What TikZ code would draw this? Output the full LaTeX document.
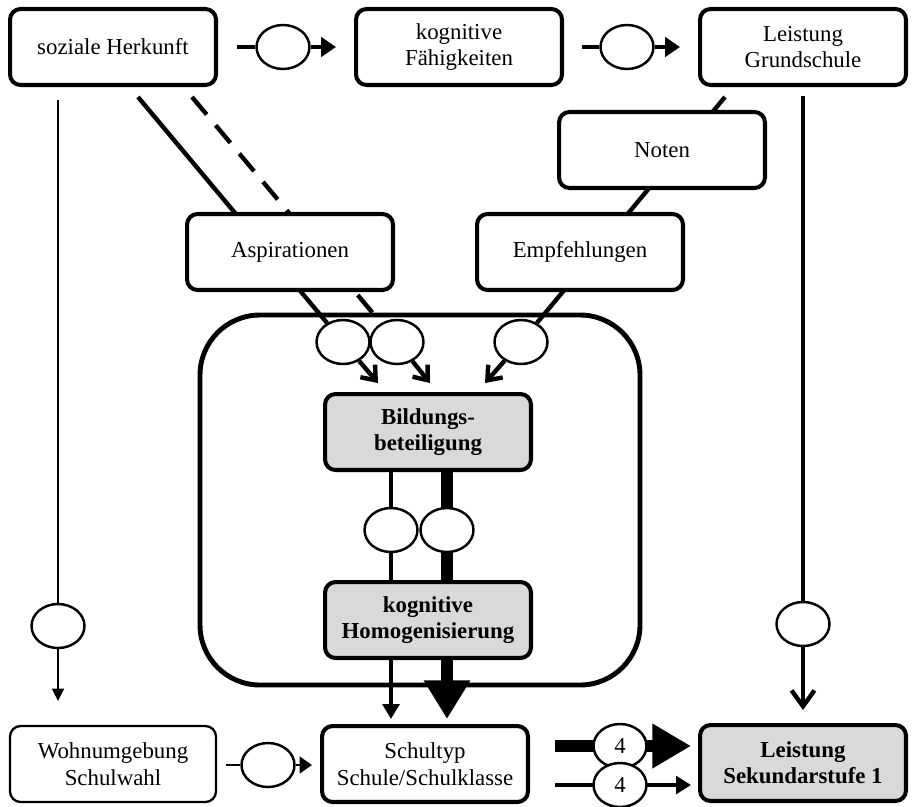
\documentclass[tikz,border=0pt]{standalone}
\usepackage{fontspec}
\setmainfont{Liberation Serif}
\usetikzlibrary{arrows.meta,shapes.geometric,backgrounds}
\tikzset{
  box/.style={draw,line width=2.3pt,rounded corners=6pt,fill=white,align=center,
    minimum width=4.12cm,minimum height=1.52cm,font=\fontsize{13}{15}\selectfont},
  thinbox/.style={box,line width=1.3pt},
  graybox/.style={box,fill=black!15,font=\fontsize{13}{15}\selectfont\bfseries},
  oval/.style={draw,ellipse,line width=1.4pt,fill=white,minimum width=1.06cm,
    minimum height=0.88cm,inner sep=0pt,font=\fontsize{13}{15}\selectfont},
  conn/.style={line width=2.5pt},
  fat/.style={line width=6.8pt},
  hair/.style={line width=0.7pt},
}

\begin{document}
\begin{tikzpicture}[x=0.02cm,y=-0.02cm]
\useasboundingbox (0,0) rectangle (912,806);

\node[box] (herkunft) at (113,47) {soziale Herkunft};
\node[box] (kogn) at (459,47) {kognitive\\Fähigkeiten};
\node[box] (lgs) at (803,47) {Leistung\\Grundschule};
\node[box] (noten) at (662,150) {Noten};
\node[box] (asp) at (290,252) {Aspirationen};
\node[box] (empf) at (580,252) {Empfehlungen};
\draw[line width=2.8pt,rounded corners=1.2cm] (200,315) rectangle (640,685);
\node[graybox] (bild) at (428,432) {Bildungs-\\beteiligung};
\node[graybox] (homog) at (428,620) {kognitive\\Homogenisierung};
\node[thinbox] (wohn) at (113,764) {Wohnumgebung\\Schulwahl};
\node[box] (schultyp) at (425,764) {Schultyp\\Schule/Schulklasse};
\node[graybox] (lsek) at (803,763) {Leistung\\Sekundarstufe 1};

\node[oval] (o1) at (283,47) {};
\node[oval] (o2) at (627,47) {};
\node[oval] (o3) at (343,342) {};
\node[oval] (o4) at (397,342) {};
\node[oval] (o5) at (521,342) {};
\node[oval] (o6) at (391,530) {};
\node[oval] (o7) at (447,530) {};
\node[oval] (o8) at (58,626) {};
\node[oval] (o9) at (803,624) {};
\node[oval] (o10) at (268,765) {};
\node[oval] (o11) at (620,746) {4};
\node[oval] (o12) at (620,785) {4};

\coordinate (a1) at (138,97);
\coordinate (a2) at (192,97);
\coordinate (a3) at (725,97);
\coordinate (t1) at (378,383);
\coordinate (t2) at (430,383);
\coordinate (t3) at (485,383);

\begin{scope}[on background layer]
\draw[conn,shorten <=0.38cm] (herkunft) -- (o1);
\draw[conn,-{Triangle[length=8.5pt,width=11pt]},shorten >=0.36cm] (o1) -- (kogn);
\draw[conn,shorten <=0.36cm] (kogn) -- (o2);
\draw[conn,-{Triangle[length=8.5pt,width=11pt]},shorten >=0.36cm] (o2) -- (lgs);

\draw[conn] (a1) -- (o3);
\draw[conn,dash pattern=on 13pt off 8pt] (a2) -- (o4);
\draw[conn] (a3) -- (o5);
\draw[conn,-{Straight Barb[length=7pt,width=11pt]}] (o3) -- (t1);
\draw[conn,-{Straight Barb[length=7pt,width=11pt]}] (o4) -- (t2);
\draw[conn,-{Straight Barb[length=7pt,width=11pt]}] (o5) -- (t3);

\draw[hair,shorten <=0.26cm] (herkunft.south -| o8) -- (o8);
\draw[hair,-{Triangle[length=7pt,width=7pt]},shorten >=0.48cm] (o8) -- (wohn.north -| o8);
\draw[conn,shorten <=0.18cm] (lgs.south -| o9) -- (o9);
\draw[conn,-{Straight Barb[length=9pt,width=13pt]},shorten >=0.26cm] (o9) -- (lsek.north -| o9);

\draw[conn] (bild.south -| o6) -- (homog.north -| o6);
\draw[fat] (bild.south -| o7) -- (homog.north -| o7);
\draw[conn,-{Triangle[length=8.5pt,width=9.5pt]},shorten >=0.1cm] (homog.south -| o6) -- (schultyp.north -| o6);
\draw[fat,-{Triangle[length=22pt,width=25pt]},shorten >=0.1cm] (homog.south -| o7) -- (schultyp.north -| o7);

\draw[line width=1.1pt,shorten <=0.18cm] (wohn.east |- o10) -- (o10);
\draw[line width=1.1pt,-{Triangle[length=7pt,width=9.5pt]},shorten >=0.16cm] (o10) -- (schultyp.west |- o10);
\draw[fat,-{Triangle[length=22pt,width=24pt]},shorten <=0.5cm,shorten >=0.14cm] (schultyp.east |- o11) -- (lsek.west |- o11);
\draw[conn,-{Triangle[length=8.5pt,width=10pt]},shorten <=0.5cm,shorten >=0.14cm] (schultyp.east |- o12) -- (lsek.west |- o12);
\end{scope}
\end{tikzpicture}
\end{document}
